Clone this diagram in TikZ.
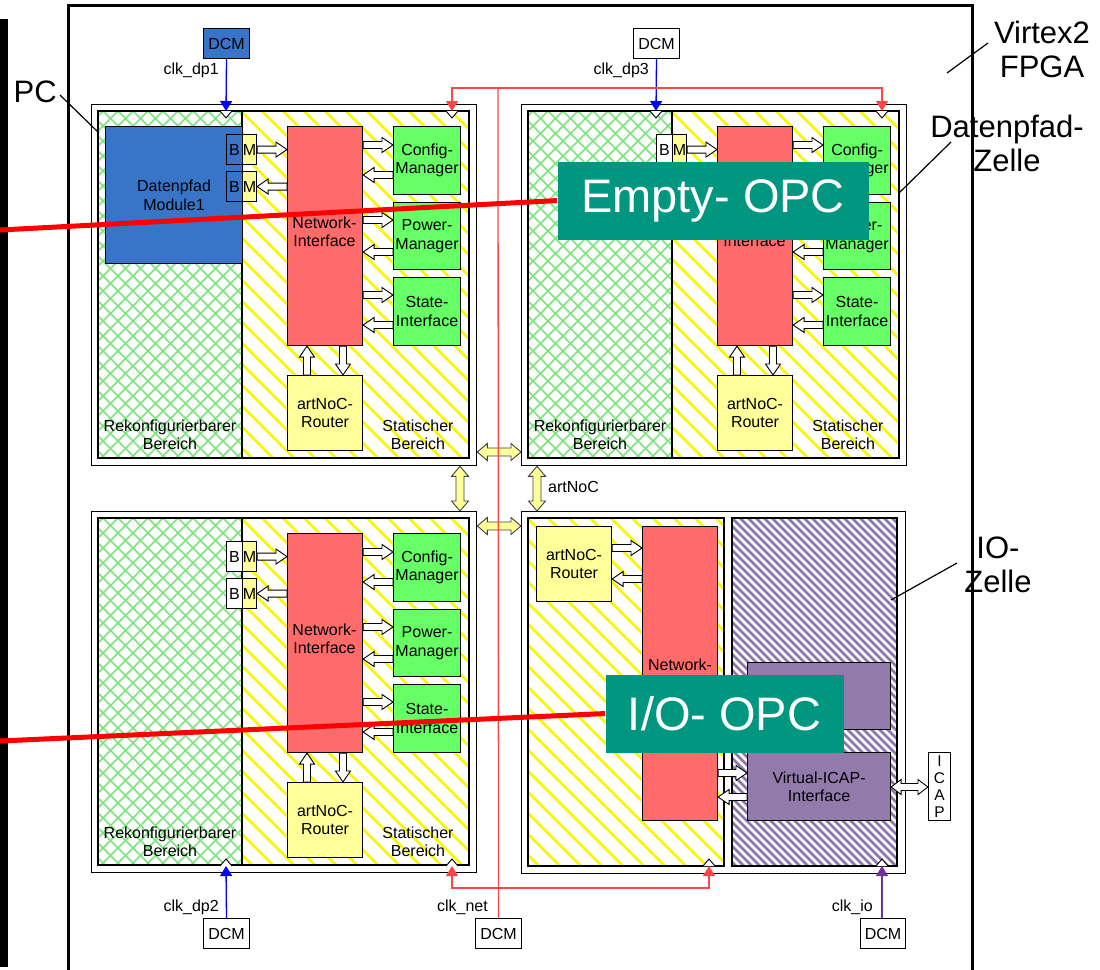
\documentclass[tikz,border=0pt]{standalone}
\usepackage{fontspec}
\setmainfont{Liberation Sans}
\usetikzlibrary{calc,arrows.meta}

\definecolor{dpblue}{RGB}{56,117,200}
\definecolor{nired}{RGB}{255,107,107}
\definecolor{mgreen}{RGB}{102,255,102}
\definecolor{ryellow}{RGB}{255,255,153}
\definecolor{hyellow}{RGB}{250,245,0}
\definecolor{hgreen}{RGB}{125,228,125}
\definecolor{hpurple}{RGB}{140,118,170}
\definecolor{bpurple}{RGB}{146,122,170}
\definecolor{opcteal}{RGB}{0,150,128}
\definecolor{clkred}{RGB}{255,70,70}
\definecolor{clkpurple}{RGB}{112,48,160}

\newcommand{\fs}{\fontsize{16}{18.5}\selectfont}
\newcommand{\fb}{\fontsize{31}{34}\selectfont}
\newcommand{\fo}{\fontsize{47}{50}\selectfont}

\tikzset{
 box/.style={draw, line width=1.1pt, inner sep=0pt, align=center, font=\fs, anchor=north west},
 barrow/.style={draw, line width=0.9pt, fill=white, line join=miter},
 yarrow/.style={draw=black!75, line width=0.9pt, fill=ryellow, line join=miter},
 cellout/.style={draw, line width=1.3pt, fill=white},
 cellin/.style={draw, line width=1.3pt},
 lbl/.style={font=\fs, align=center, inner sep=0pt},
 big/.style={font=\fb, align=center, inner sep=0pt},
 callout/.style={line width=1.2pt},
 clk/.style={line width=1.3pt, -{Triangle[length=10pt,width=12pt]}},
 opc/.style={box, draw=none, fill=opcteal, text=white, font=\fo},
}

% single block arrow
\newcommand{\barr}[3][]{%
 \coordinate (bA) at (#2); \coordinate (bB) at (#3);
 \coordinate (bP) at ($(bB)!11pt!(bA)$);
 \draw[barrow,#1] ($(bA)!3.5pt!90:(bB)$) -- ($(bP)!3.5pt!-90:(bA)$) -- ($(bP)!7.5pt!-90:(bA)$) -- (bB) -- ($(bP)!7.5pt!90:(bA)$) -- ($(bP)!3.5pt!90:(bA)$) -- ($(bA)!3.5pt!-90:(bB)$) -- cycle;}
% double block arrow (yellow)
\newcommand{\dbarr}[3][]{%
 \coordinate (bA) at (#2); \coordinate (bB) at (#3);
 \coordinate (bP) at ($(bB)!10pt!(bA)$); \coordinate (bQ) at ($(bA)!10pt!(bB)$);
 \draw[yarrow,#1] (bA) -- ($(bQ)!8.5pt!90:(bB)$) -- ($(bQ)!4pt!90:(bB)$) -- ($(bP)!4pt!-90:(bA)$) -- ($(bP)!8.5pt!-90:(bA)$) -- (bB) -- ($(bP)!8.5pt!90:(bA)$) -- ($(bP)!4pt!90:(bA)$) -- ($(bQ)!4pt!-90:(bB)$) -- ($(bQ)!8.5pt!-90:(bB)$) -- cycle;}
% double block arrow (white)
\newcommand{\dbarrw}[3][]{%
 \coordinate (bA) at (#2); \coordinate (bB) at (#3);
 \coordinate (bP) at ($(bB)!10pt!(bA)$); \coordinate (bQ) at ($(bA)!10pt!(bB)$);
 \draw[barrow,#1] (bA) -- ($(bQ)!7.5pt!90:(bB)$) -- ($(bQ)!3.5pt!90:(bB)$) -- ($(bP)!3.5pt!-90:(bA)$) -- ($(bP)!7.5pt!-90:(bA)$) -- (bB) -- ($(bP)!7.5pt!90:(bA)$) -- ($(bP)!3.5pt!90:(bA)$) -- ($(bQ)!3.5pt!-90:(bB)$) -- ($(bQ)!7.5pt!-90:(bB)$) -- cycle;}

% hatching: x0 y0 x1 y1 step style dx
\newcommand{\hatchbox}[7]{%
 \begin{scope}
 \clip (#1,#2) rectangle (#3,#4);
 \foreach \k in {0,#5,...,1200} \draw[#6] (#1-400+\k,#2) -- ++(#7,450);
 \end{scope}}

% clock chevrons
\newcommand{\chevd}[2]{\fill[white] (#1-6,#2) -- (#1,#2+7) -- (#1+6,#2) -- cycle; \draw[line width=0.9pt] (#1-6,#2) -- (#1,#2+7) -- (#1+6,#2);}
\newcommand{\chevu}[2]{\fill[white] (#1-6,#2) -- (#1,#2-7) -- (#1+6,#2) -- cycle; \draw[line width=0.9pt] (#1-6,#2) -- (#1,#2-7) -- (#1+6,#2);}

% data path cell
\newcommand{\dpcell}[5]{%
\begin{scope}[shift={(#2,#3)}]
 \node[cellout, anchor=north west, minimum width=385pt, minimum height=361pt, inner sep=0pt] (#1out) at (91,104) {};
 \hatchbox{98}{111}{242}{458}{15}{hgreen, line width=1.7pt}{450}
 \hatchbox{98}{111}{242}{458}{15}{hgreen, line width=1.7pt}{-450}
 \hatchbox{242}{111}{469}{458}{21}{hyellow, line width=2.5pt}{450}
 \draw[cellin] (98,111) rectangle (469,458);
 \draw[cellin] (242,111) -- (242,458);
 #5
 \node[lbl] (#1lr) at (170,435) {Rekonfigurierbarer\\Bereich};
 \node[lbl] (#1ls) at (418,435) {Statischer\\Bereich};
 \node[box, fill=#4, minimum width=16pt, minimum height=30pt] (#1b1) at (226,134) {B};
 \node[box, fill=ryellow, minimum width=14pt, minimum height=30pt] (#1m1) at (242,134) {M};
 \node[box, fill=#4, minimum width=16pt, minimum height=30pt] (#1b2) at (226,171) {B};
 \node[box, fill=ryellow, minimum width=14pt, minimum height=30pt] (#1m2) at (242,171) {M};
 \node[box, fill=nired, minimum width=75pt, minimum height=219pt] (#1ni) at (287,126) {};
 \node[lbl] (#1nit) at (324.5,232) {Network-\\Interface};
 \node[box, fill=mgreen, minimum width=67pt, minimum height=68pt] (#1cf) at (393,126) {Config-\\Manager};
 \node[box, fill=mgreen, minimum width=67pt, minimum height=67pt] (#1pw) at (393,202) {Power-\\Manager};
 \node[box, fill=mgreen, minimum width=67pt, minimum height=68pt] (#1st) at (393,277) {State-\\Interface};
 \node[box, fill=ryellow, minimum width=75pt, minimum height=75pt] (#1rt) at (287,375) {artNoC-\\Router};
 \barr{#1m1.east}{#1ni.west |- #1m1.east}
 \barr{#1ni.west |- #1m2.east}{#1m2.east}
 \barr{#1ni.east |- 0,145}{#1cf.west |- 0,145}
 \barr{#1cf.west |- 0,175}{#1ni.east |- 0,175}
 \barr{#1ni.east |- 0,220}{#1pw.west |- 0,220}
 \barr{#1pw.west |- 0,252}{#1ni.east |- 0,252}
 \barr{#1ni.east |- 0,295}{#1st.west |- 0,295}
 \barr{#1st.west |- 0,325}{#1ni.east |- 0,325}
 \barr{#1rt.north -| 307,0}{#1ni.south -| 307,0}
 \barr{#1ni.south -| 343,0}{#1rt.north -| 343,0}
\end{scope}}

\begin{document}
\begin{tikzpicture}[x=1pt,y=-1pt]
\useasboundingbox (0,0) rectangle (1100,969);
\fill[white] (0,0) rectangle (1100,969);

% left bar and FPGA border
\fill[black] (0,19) rectangle (8,967);
\draw[line width=3pt] (68,985) -- (68,5) -- (972,5) -- (972,985);

% data path cells
\dpcell{tl}{0}{0}{none}{\node[box, fill=dpblue, minimum width=137pt, minimum height=137pt] (tlmod) at (105,126) {Datenpfad\\Module1};}
\dpcell{tr}{430}{0}{white}{}
\dpcell{bl}{0}{407}{white}{}

% IO cell
\node[cellout, anchor=north west, minimum width=384pt, minimum height=362pt, inner sep=0pt] (brout) at (521,511) {};
\hatchbox{528}{518}{724}{866}{21}{hyellow, line width=2.5pt}{450}
\hatchbox{732}{518}{897}{866}{8}{hpurple, line width=2.8pt}{450}
\draw[cellin] (528,518) rectangle (724,866);
\draw[cellin] (732,518) rectangle (897,866);
\node[box, fill=ryellow, minimum width=75pt, minimum height=75pt] (brrt) at (536,526) {artNoC-\\Router};
\node[box, fill=nired, minimum width=75pt, minimum height=294pt] (brni) at (642,526) {Network-\\Interface};
\node[box, fill=bpurple, minimum width=143pt, minimum height=67pt] (brpu) at (747,662) {};
\node[box, fill=bpurple, minimum width=143pt, minimum height=68pt] (brvi) at (747,752) {Virtual-ICAP-\\Interface};
\node[box, fill=white, minimum width=22pt, minimum height=68pt, font=\fontsize{15.5}{17}\selectfont] (icap) at (928,752) {I\\C\\A\\P};
\barr{brrt.east |- 0,548}{brni.west |- 0,548}
\barr{brni.west |- 0,579}{brrt.east |- 0,579}
\barr{brni.east |- 0,773}{brvi.west |- 0,773}
\barr{brvi.west |- 0,797}{brni.east |- 0,797}
\dbarrw{brvi.east |- 0,787}{icap.west |- 0,787}

% artNoC links
\dbarr{tlout.east |- 0,452}{trout.west |- 0,452}
\dbarr{blout.east |- 0,526}{brout.west |- 0,526}
\dbarr{tlout.south -| 460,0}{blout.north -| 460,0}
\dbarr{trout.south -| 537,0}{brout.north -| 537,0}
\node[lbl, anchor=west] (artnoc) at (548,487) {artNoC};

% clock chevrons
\chevd{226}{111} \chevd{452}{111} \chevd{656}{111} \chevd{882}{111}
\chevu{226}{866} \chevu{452}{866} \chevu{709}{866} \chevu{882}{866}
\coordinate (k1) at (226,111); \coordinate (k2) at (452,111);
\coordinate (k3) at (656,111); \coordinate (k4) at (882,111);
\coordinate (k5) at (226,866); \coordinate (k6) at (452,866);
\coordinate (k7) at (709,866); \coordinate (k8) at (882,866);

% DCMs
\node[box, fill=dpblue, line width=1pt, minimum width=46pt, minimum height=30pt] (dcm1) at (203,28) {DCM};
\node[box, fill=white, line width=1pt, minimum width=46pt, minimum height=30pt] (dcm3) at (633,28) {DCM};
\node[box, fill=white, line width=1pt, minimum width=46pt, minimum height=30pt] (dcm2) at (203,918) {DCM};
\node[box, fill=white, line width=1pt, minimum width=46pt, minimum height=30pt] (dcmn) at (475,918) {DCM};
\node[box, fill=white, line width=1pt, minimum width=45pt, minimum height=30pt] (dcmio) at (860,918) {DCM};
\node[lbl, anchor=east] (lclk1) at (219,70) {clk\_dp1};
\node[lbl, anchor=east] (lclk3) at (649,70) {clk\_dp3};
\node[lbl, anchor=east] (lclk2) at (219,907) {clk\_dp2};
\node[lbl, anchor=east] (lclkn) at (488,907) {clk\_net};
\node[lbl, anchor=east] (lclkio) at (873,907) {clk\_io};

% clock lines
\draw[clk, blue] (dcm1.south) -- (k1);
\draw[clk, blue] (dcm3.south) -- (k3);
\draw[clk, blue] (dcm2.north) -- (k5);
\draw[clk, clkpurple] (dcmio.north -| k8) -- (k8);
\coordinate (rtop) at (498,88); \coordinate (rbot) at (498,888);
\draw[line width=1.3pt, clkred] (dcmn.north) -- (rtop);
\draw[clk, clkred] (rtop) -| (k2);
\draw[clk, clkred] (rtop) -| (k4);
\draw[clk, clkred] (rbot) -| (k6);
\draw[clk, clkred] (rbot) -| (k7);

% outside labels and callouts
\node[big, anchor=east] (pc) at (57,92) {PC};
\node[big] (virtex) at (1042,49) {Virtex2\\FPGA};
\node[big] (dpz) at (1007,143) {Datenpfad-\\Zelle};
\node[big] (ioz) at (998,565) {IO-\\Zelle};
\coordinate (pcA) at (60,95); \coordinate (pcB) at (99,133);
\coordinate (vxA) at (988,43); \coordinate (vxB) at (947,73);
\coordinate (dzA) at (951,142); \coordinate (dzB) at (899,193);
\coordinate (izA) at (957,563); \coordinate (izB) at (891,600);
\draw[callout] (pcA) -- (pcB);
\draw[callout] (vxA) -- (vxB);
\draw[callout] (dzA) -- (dzB);
\draw[callout] (izA) -- (izB);

% OPC overlays
\node[opc, minimum width=311pt, minimum height=78pt] (eopc) at (557,161) {Empty- OPC};
\node[opc, minimum width=238pt, minimum height=78pt] (iopc) at (605,674) {I/O- OPC};
\coordinate (r1) at (0,230); \coordinate (r2) at (0,741);
\draw[red, line width=5pt] (r1) -- (eopc.west);
\draw[red, line width=5pt] (r2) -- (iopc.west);
\end{tikzpicture}
\end{document}
